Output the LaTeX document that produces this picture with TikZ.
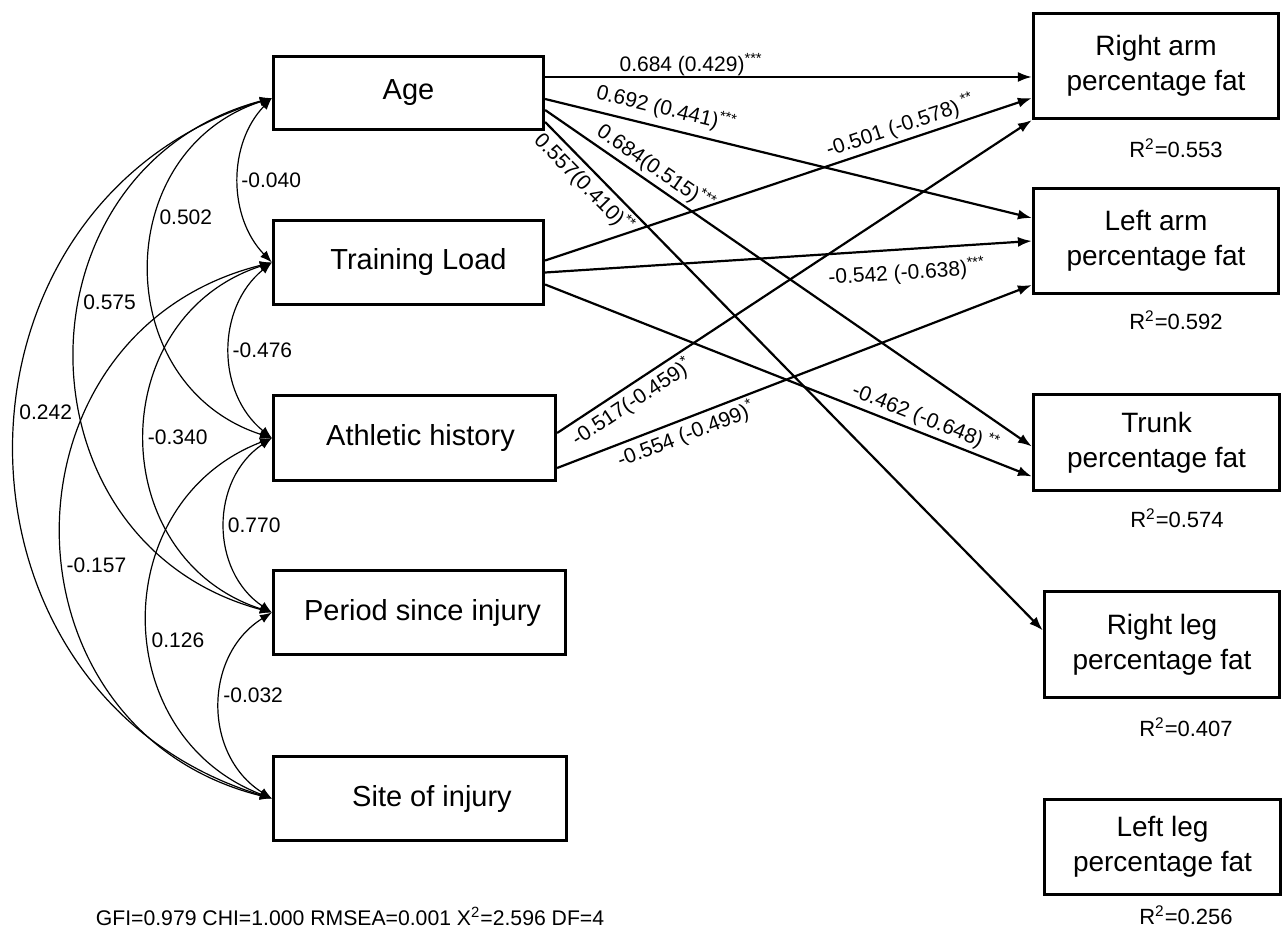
\documentclass[tikz,border=0pt]{standalone}
\usepackage{fontspec}
\setmainfont{Liberation Sans}
\usepackage{tikz}
\usetikzlibrary{arrows.meta}

\begin{document}
\begin{tikzpicture}[x=0.5pt,y=0.5pt,
  var/.style={draw,line width=1.6pt,inner sep=0pt,font=\fontsize{14.5}{17}\selectfont},
  fat/.style={draw,line width=1.6pt,inner sep=0pt,align=center,font=\fontsize{14}{17.5}\selectfont},
  rsq/.style={font=\fontsize{11}{13}\selectfont},
  reg/.style={-{Latex[length=7pt,width=5pt]},line width=1.1pt},
  cov/.style={{Latex[length=6pt,width=4.5pt]}-{Latex[length=6pt,width=4.5pt]},line width=0.6pt},
  coef/.style={font=\fontsize{10.5}{12}\selectfont,inner sep=1.5pt},
  cval/.style={font=\fontsize{10.5}{12}\selectfont,inner sep=1pt}]
\useasboundingbox (0,0) rectangle (1283,-930);

\node [var,minimum width=135pt,minimum height=36.5pt] (age) at (408.5,-93) {Age};
\node [var,minimum width=135pt,minimum height=42pt] (load) at (408.5,-262.5) {\hspace*{10pt}Training Load};
\node [var,minimum width=141pt,minimum height=42.5pt] (hist) at (414.5,-438) {\hspace*{6pt}Athletic history};
\node [var,minimum width=146pt,minimum height=42pt] (period) at (419.5,-612.5) {\hspace*{3pt}Period since injury};
\node [var,minimum width=146.5pt,minimum height=42pt] (site) at (420,-798.5) {\hspace*{12pt}Site of injury};

\node [fat,minimum width=122.5pt,minimum height=52.5pt] (rarm) at (1156,-66) {Right arm\\percentage fat};
\node [fat,minimum width=122.5pt,minimum height=52.5pt] (larm) at (1156,-241) {Left arm\\percentage fat};
\node [fat,minimum width=123pt,minimum height=48pt] (trunk) at (1156.5,-442.5) {Trunk\\percentage fat};
\node [fat,minimum width=117.5pt,minimum height=53pt] (rleg) at (1162,-644.5) {Right leg\\percentage fat};
\node [fat,minimum width=118pt,minimum height=47.5pt] (lleg) at (1162.5,-847) {Left leg\\percentage fat};

\node [rsq] (r2rarm) at (1176,-148) {R\textsuperscript{2}=0.553};
\node [rsq] (r2larm) at (1176,-320) {R\textsuperscript{2}=0.592};
\node [rsq] (r2trunk) at (1177,-518) {R\textsuperscript{2}=0.574};
\node [rsq] (r2rleg) at (1186,-727) {R\textsuperscript{2}=0.407};
\node [rsq] (r2lleg) at (1186,-915) {R\textsuperscript{2}=0.256};

\node [font=\fontsize{10.6}{13}\selectfont] (fit) at (350,-916) {GFI=0.979 CHI=1.000 RMSEA=0.001 X\textsuperscript{2}=2.596 DF=4};

\draw [reg] ([yshift=8pt]age.east) -- ([yshift=-5.5pt]rarm.west)
  node[coef, above=-1.5pt, pos=.3] {0.684 (0.429)\textsuperscript{***}};
\draw [reg] ([yshift=-3pt]age.east) -- ([yshift=11.5pt]larm.west)
  node[coef, sloped, above=2pt, pos=.24] {0.692 (0.441)\textsuperscript{***}};
\draw [reg] ([yshift=-8.5pt]age.east) -- ([yshift=-2pt]trunk.west)
  node[coef, sloped, above, pos=.21] {0.684(0.515)\textsuperscript{***}};
\draw [reg] ([yshift=-14.5pt]age.east) -- ([yshift=7pt]rleg.west)
  node[coef, sloped, below, pos=.1] {0.557(0.410)\textsuperscript{**}};
\draw [reg] ([yshift=1pt]load.east) -- ([yshift=-16pt]rarm.west)
  node[coef, sloped, above, pos=.74] {-0.501 (-0.578)\textsuperscript{ **}};
\draw [reg] ([yshift=-5pt]load.east) -- (larm.west)
  node[coef, sloped, below=4pt, pos=.74] {-0.542 (-0.638)\textsuperscript{***}};
\draw [reg] ([yshift=-11pt]load.east) -- ([yshift=-17pt]trunk.west)
  node[coef, sloped, above, pos=.77] {-0.462 (-0.648)\textsuperscript{ **}};
\draw [reg] ([yshift=2.5pt]hist.east) -- (rarm.south west)
  node[coef, sloped, below, pos=.14] {-0.517(-0.459)\textsuperscript{*}};
\draw [reg] ([yshift=-15pt]hist.east) -- ([yshift=-22pt]larm.west)
  node[coef, sloped, below, pos=.26] {-0.554 (-0.499)\textsuperscript{*}};

\draw [cov] ([yshift=-2.5pt]age.west) to[bend right=44, looseness=.99] node[cval, right] {-0.040} (load.west);
\draw [cov] ([yshift=-2.5pt]age.west) to[bend right=72, looseness=1.29] node[cval, right, pos=.38] {0.502} (hist.west);
\draw [cov] ([yshift=-2.5pt]age.west) to[bend right=75, looseness=1.35] node[cval, right, pos=.42] {0.575} (period.west);
\draw [cov] ([yshift=-2.5pt]age.west) to[bend right=73, looseness=1.31] node[cval, right, pos=.46] {0.242} (site.west);
\draw [cov] (load.west) to[bend right=51, looseness=1.05] node[cval, right] {-0.476} (hist.west);
\draw [cov] (load.west) to[bend right=72, looseness=1.3] node[cval, right] {-0.340} (period.west);
\draw [cov] (load.west) to[bend right=76, looseness=1.38] node[cval, right, pos=.55] {-0.157} (site.west);
\draw [cov] (hist.west) to[bend right=56, looseness=1.1] node[cval, right] {0.770} (period.west);
\draw [cov] (hist.west) to[bend right=69, looseness=1.26] node[cval, right, pos=.55] {0.126} (site.west);
\draw [cov] (period.west) to[bend right=58, looseness=1.12] node[cval, right, pos=.45] {-0.032} (site.west);
\end{tikzpicture}
\end{document}
